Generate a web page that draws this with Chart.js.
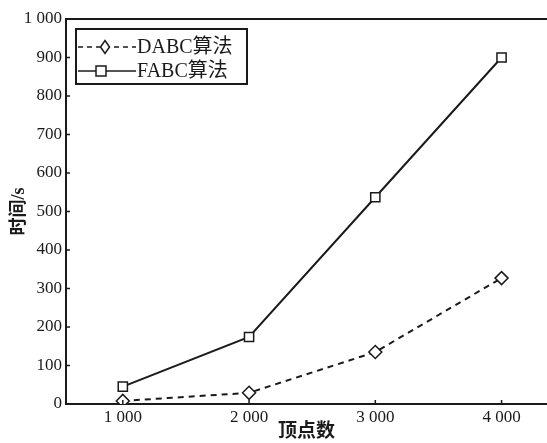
<!DOCTYPE html>
<html>
<head>
<meta charset="utf-8">
<script src="https://cdn.jsdelivr.net/npm/chart.js@4/dist/chart.umd.min.js"></script>
<style>
  html, body { margin: 0; padding: 0; background: #fff; }
  #wrap { width: 547px; height: 443px; position: relative; }
</style>
</head>
<body>
<div id="wrap"><canvas id="c"></canvas></div>
<script>
const vertexCounts = [1000, 2000, 3000, 4000];
const dabcTimes = [8, 29, 135, 327];
const fabcTimes = [45, 174, 537, 900];
const yTicks = [0, 100, 200, 300, 400, 500, 600, 700, 800, 900, 1000];

const FONT = "'Liberation Serif', 'Noto Sans CJK SC', serif";
const INK = "#1a1a1a";

const fmt = v => v >= 1000 ? Math.floor(v / 1000) + " " + String(v % 1000).padStart(3, "0") : String(v);

// inward tick marks, frame line on top, and the boxed legend
const decor = {
  id: "decor",
  afterDraw(chart) {
    const { ctx, chartArea: a, scales: { x, y } } = chart;
    ctx.save();
    ctx.strokeStyle = INK;
    ctx.lineWidth = 1.5;
    ctx.beginPath();
    yTicks.forEach(v => {
      const py = y.getPixelForValue(v);
      ctx.moveTo(a.left, py);
      ctx.lineTo(a.left + 4, py);
    });
    vertexCounts.forEach(v => {
      const px = x.getPixelForValue(v);
      ctx.moveTo(px, a.bottom);
      ctx.lineTo(px, a.bottom - 4);
    });
    ctx.stroke();
    ctx.lineWidth = 2;
    ctx.beginPath();
    ctx.moveTo(a.left, a.top);
    ctx.lineTo(a.right, a.top);
    ctx.stroke();

    // legend box
    const bx = 76, by = 29, bw = 171, bh = 55;
    ctx.lineWidth = 2;
    ctx.strokeRect(bx, by, bw, bh);
    const rows = [
      { label: "DABC算法", dash: [5, 4], shape: "diamond", yy: 47 },
      { label: "FABC算法", dash: [], shape: "square", yy: 71 }
    ];
    rows.forEach(r => {
      ctx.setLineDash(r.dash);
      ctx.lineWidth = 1.5;
      ctx.beginPath();
      ctx.moveTo(bx + 2, r.yy);
      ctx.lineTo(bx + 60, r.yy);
      ctx.stroke();
      ctx.setLineDash([]);
      const cx = r.shape === "diamond" ? 105 : 101;
      ctx.fillStyle = "#fff";
      ctx.beginPath();
      if (r.shape === "diamond") {
        ctx.moveTo(cx, r.yy - 6.5); ctx.lineTo(cx + 4.5, r.yy);
        ctx.lineTo(cx, r.yy + 6.5); ctx.lineTo(cx - 4.5, r.yy);
        ctx.closePath();
      } else {
        ctx.rect(cx - 5, r.yy - 5, 10, 10);
      }
      ctx.fill();
      ctx.stroke();
      ctx.fillStyle = INK;
      ctx.font = "20px " + FONT;
      ctx.textBaseline = "middle";
      ctx.fillText(r.label, 137, r.yy + 1);
    });
    ctx.restore();
  }
};

new Chart(document.getElementById("c"), {
  type: "line",
  data: {
    datasets: [
      {
        label: "DABC算法",
        data: vertexCounts.map((v, i) => ({ x: v, y: dabcTimes[i] })),
        borderColor: INK,
        borderWidth: 2,
        borderDash: [6, 5],
        pointStyle: "rectRot",
        pointRadius: 6.5,
        pointBackgroundColor: "#fff",
        pointBorderColor: INK,
        pointBorderWidth: 1.5
      },
      {
        label: "FABC算法",
        data: vertexCounts.map((v, i) => ({ x: v, y: fabcTimes[i] })),
        borderColor: INK,
        borderWidth: 2,
        pointStyle: "rect",
        pointRadius: 6.5,
        pointBackgroundColor: "#fff",
        pointBorderColor: INK,
        pointBorderWidth: 1.5
      }
    ]
  },
  options: {
    responsive: true,
    maintainAspectRatio: false,
    animation: false,
    layout: { autoPadding: false, padding: { top: 19, right: 0, left: 0, bottom: 0 } },
    plugins: { legend: { display: false }, tooltip: { enabled: false } },
    scales: {
      x: {
        type: "linear",
        min: 550,
        max: 4360,
        afterBuildTicks: s => { s.ticks = vertexCounts.map(v => ({ value: v })); },
        afterFit: s => { s.height = 39; },
        grid: { display: false, drawTicks: false, tickLength: 0 },
        border: { color: INK, width: 2 },
        ticks: { color: INK, font: { family: FONT, size: 17 }, padding: 3, callback: v => fmt(v), maxRotation: 0 },
        title: { display: true, text: "顶点数", color: INK, font: { family: FONT, size: 19, weight: "bold" }, padding: { top: -5, bottom: 0 } }
      },
      y: {
        min: 0,
        max: 1000,
        afterBuildTicks: s => { s.ticks = yTicks.map(v => ({ value: v })); },
        afterFit: s => { s.width = 66; },
        grid: { display: false, drawTicks: false, tickLength: 0 },
        border: { color: INK, width: 2 },
        ticks: { color: INK, font: { family: FONT, size: 17 }, padding: 4, callback: v => fmt(v) },
        title: { display: true, text: "时间/s", color: INK, font: { family: FONT, size: 18, weight: "bold" }, padding: { top: 9, bottom: 0 } }
      }
    }
  },
  plugins: [decor]
});
</script>
</body>
</html>
